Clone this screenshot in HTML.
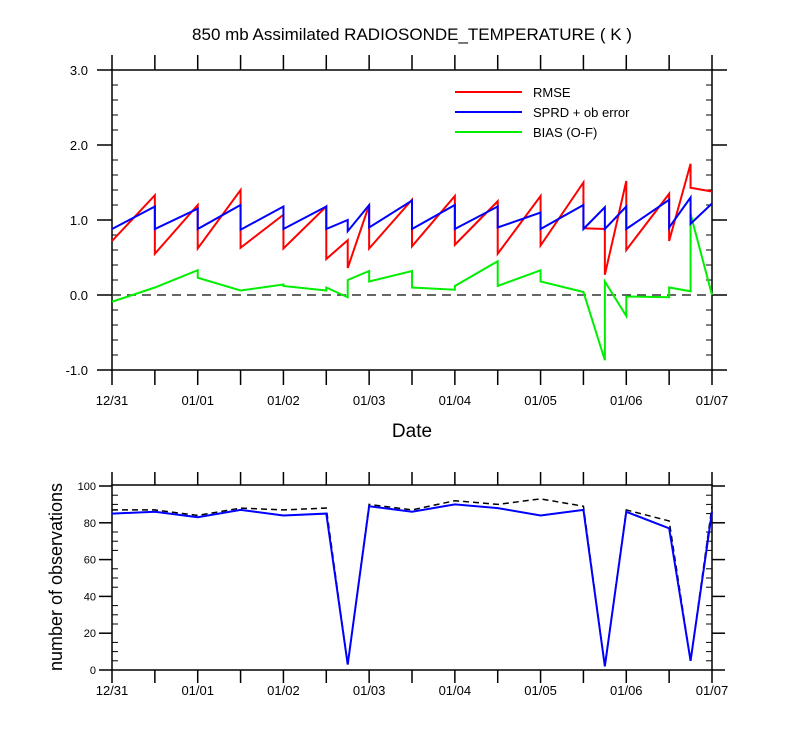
<!DOCTYPE html>
<html><head><meta charset="utf-8"><style>
body{margin:0;background:#fff}
svg text{font-family:"Liberation Sans",sans-serif;fill:#000}
</style></head><body>
<svg id="c" width="800" height="750" xmlns="http://www.w3.org/2000/svg"></svg>
<script>
const binHours=[0,12,24,36,48,60,66,72,84,96,108,120,132,138,144,156,162,168];
const rmseStart=[0.72,0.55,0.62,0.63,0.62,0.48,0.36,0.62,0.65,0.67,0.55,0.66,0.89,0.27,0.6,0.72,1.43];
const rmseEnd=[1.33,1.2,1.4,1.07,1.18,0.73,1.2,1.27,1.32,1.25,1.32,1.5,0.88,1.52,1.35,1.75,1.38];
const sprdStart=[0.88,0.88,0.88,0.87,0.88,0.88,0.85,0.9,0.88,0.88,0.9,0.88,0.88,0.88,0.88,0.9,0.95];
const sprdEnd=[1.18,1.15,1.2,1.18,1.18,1.0,1.2,1.26,1.2,1.18,1.1,1.2,1.17,1.18,1.27,1.3,1.22];
const biasStart=[-0.09,0.1,0.23,0.06,0.12,0.1,0.2,0.18,0.1,0.12,0.12,0.18,0.04,0.18,-0.02,0.1,1.08];
const biasEnd=[0.1,0.33,0.06,0.14,0.06,-0.03,0.32,0.32,0.07,0.45,0.33,0.04,-0.87,-0.28,-0.03,0.05,0.0];
const obsUsed=[85,86,83,87,84,85,3,89,86,90,88,84,87,2,86,77,5,86];
const obsPossible=[87,87,84,88,87,88,3,90,87,92,90,93,89,2,87,81,5,89];
const dayLabels=["12/31","01/01","01/02","01/03","01/04","01/05","01/06","01/07"];
const topTicks=["3.0","2.0","1.0","0.0","-1.0"];
const botTicks=["0","20","40","60","80","100"];

const svg=document.getElementById('c');const NS="http://www.w3.org/2000/svg";
function el(t,a,p){const e=document.createElementNS(NS,t);for(const k in a)e.setAttribute(k,a[k]);(p||svg).appendChild(e);return e;}
const X0=112,X1=712;
const xs=h=>X0+(X1-X0)*h/168;
const yT=v=>295-75*v;
const yB=v=>670-1.84*v;

function frame(top,bot,name,tl,lblOff,fs){
  const r=el('rect',{x:X0,y:top,width:X1-X0,height:bot-top,fill:'none',stroke:'#000','stroke-width':1.5});
  
  for(let h=0;h<=168;h+=12){const x=xs(h);
    el('line',{x1:x,y1:bot,x2:x,y2:bot+tl,stroke:'#000','stroke-width':1.5});el('line',{x1:x,y1:top,x2:x,y2:top-tl,stroke:'#000','stroke-width':1.5});}
  dayLabels.forEach((d,i)=>{const t=el('text',{x:xs(i*24),y:bot+lblOff,'font-size':fs,'text-anchor':'middle'});t.textContent=d;
    });
}
frame(70,370,'top-plot-frame',15,35,13);frame(485,670,'bottom-plot-frame',13,25,13);
// top y ticks
for(let i=0;i<=20;i++){const v=-1+i*0.2,y=yT(v),maj=i%5==0;
  if(maj){el('line',{x1:X0-15,y1:y,x2:X0,y2:y,stroke:'#000','stroke-width':1.5});el('line',{x1:X1,y1:y,x2:X1+15,y2:y,stroke:'#000','stroke-width':1.5});}
  else{el('line',{x1:X0,y1:y,x2:X0+6,y2:y,stroke:'#000'});el('line',{x1:X1,y1:y,x2:X1-6,y2:y,stroke:'#000'});}}
topTicks.forEach(s=>{const t=el('text',{x:88,y:yT(parseFloat(s))+5,'font-size':13,'text-anchor':'end'});t.textContent=s;
  });
for(let v=0;v<=100;v+=5){const y=yB(v);
  if(v%20==0){el('line',{x1:X0-13,y1:y,x2:X0,y2:y,stroke:'#000','stroke-width':1.5});el('line',{x1:X1,y1:y,x2:X1+13,y2:y,stroke:'#000','stroke-width':1.5});}
  else{el('line',{x1:X0,y1:y,x2:X0+6,y2:y,stroke:'#000'});el('line',{x1:X1,y1:y,x2:X1-6,y2:y,stroke:'#000'});}}
botTicks.forEach(s=>{const t=el('text',{x:96,y:yB(+s)+4,'font-size':11,'text-anchor':'end'});t.textContent=s;
  });
// zero line
const z=el('line',{x1:X0,y1:yT(0),x2:X1,y2:yT(0),stroke:'#333','stroke-width':1.5,'stroke-dasharray':'9,6'});

function saw(s,e,col,name){let d='';for(let i=0;i<s.length;i++){d+=(i?'L':'M')+xs(binHours[i])+','+yT(s[i])+'L'+xs(binHours[i+1])+','+yT(e[i]);}
  const p=el('path',{d:d,fill:'none',stroke:col,'stroke-width':2});}
saw(biasStart,biasEnd,'#00ee00','bias-line');saw(rmseStart,rmseEnd,'#ff0000','rmse-line');saw(sprdStart,sprdEnd,'#0000ff','sprd-line');
function line(arr,col,name,dash){const d=arr.map((v,i)=>(i?'L':'M')+xs(binHours[i])+','+yB(v)).join('');
  const a={d:d,fill:'none',stroke:col,'stroke-width':dash?1.5:2};if(dash)a['stroke-dasharray']='6,4';
  const p=el('path',a);}
line(obsPossible,'#000','obs-possible-line',true);line(obsUsed,'#0000ff','obs-used-line',false);
// legend
[['RMSE','#ff0000',92],['SPRD + ob error','#0000ff',112],['BIAS (O-F)','#00ee00',132]].forEach(([n,c,y])=>{
  const g=el('g',{});
  el('line',{x1:455,y1:y,x2:522,y2:y,stroke:c,'stroke-width':2},g);
  const t=el('text',{x:533,y:y+5,'font-size':13},g);t.textContent=n;});
let t=el('text',{x:412,y:40,'font-size':17,'text-anchor':'middle'});t.textContent='850 mb Assimilated RADIOSONDE_TEMPERATURE ( K )';

t=el('text',{x:412,y:437,'font-size':19,'text-anchor':'middle'});t.textContent='Date';

t=el('text',{x:0,y:0,'font-size':18,'text-anchor':'middle',transform:'translate(62,577) rotate(-90)'});t.textContent='number of observations';

</script>
</body></html>
